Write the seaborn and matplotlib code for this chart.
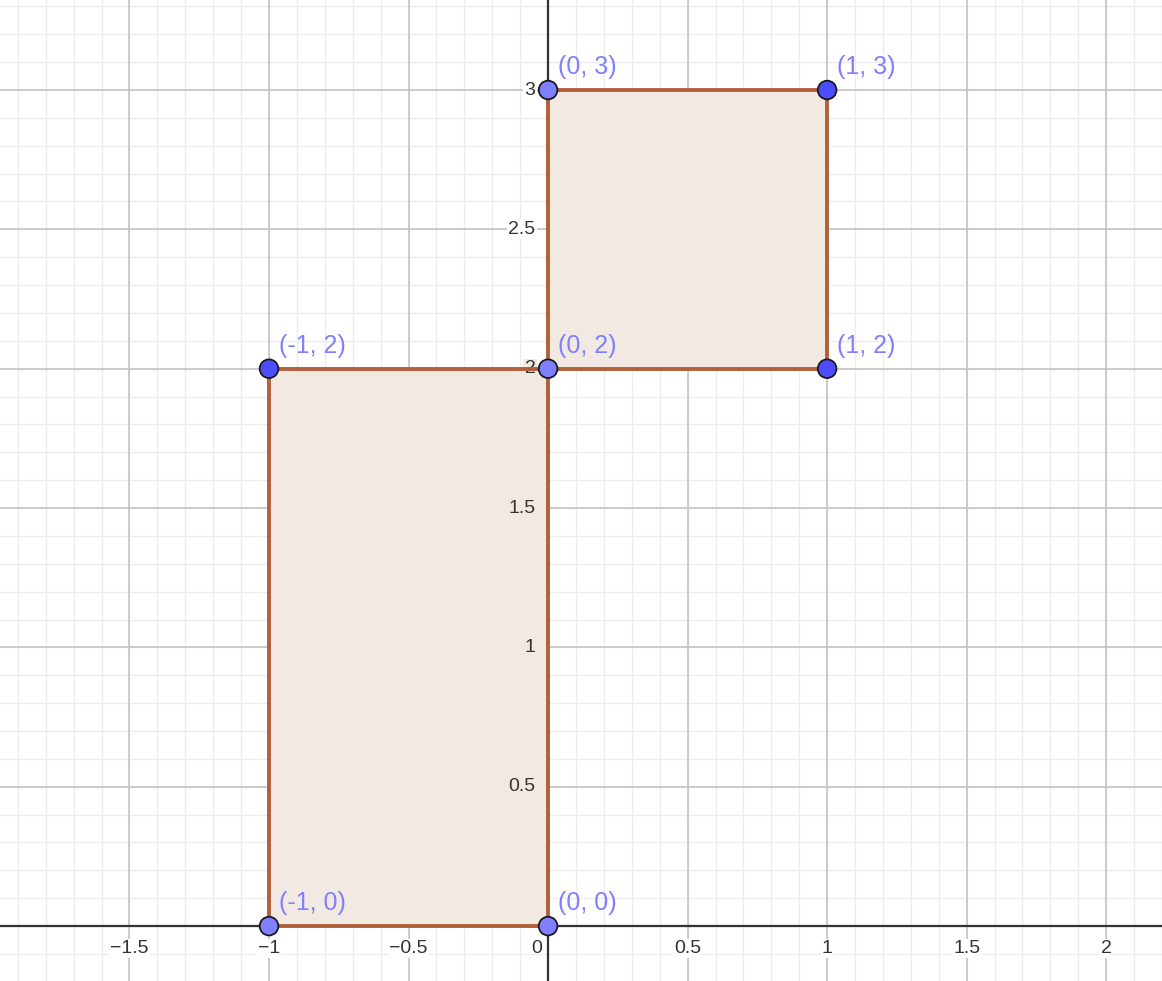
import numpy as np
import matplotlib
matplotlib.use("Agg")
from matplotlib import pyplot as plt
import seaborn as sns

# polygons (rectangles)
rect_lower_x = [-1, 0, 0, -1]
rect_lower_y = [0, 0, 2, 2]
rect_upper_x = [0, 1, 1, 0]
rect_upper_y = [2, 2, 3, 3]

# points: free points darker blue, dependent points lighter
pt_x = [0, 1, -1, 0, 1, -1, 0]
pt_y = [3, 3, 2, 2, 2, 0, 0]
pt_kind = ["dep", "free", "free", "dep", "free", "dep", "dep"]
pt_labels = ["(0, 3)", "(1, 3)", "(-1, 2)", "(0, 2)", "(1, 2)", "(-1, 0)", "(0, 0)"]

x_ticks = [-1.5, -1, -0.5, 0.5, 1, 1.5, 2]
y_ticks = [0.5, 1, 1.5, 2, 2.5, 3]

sns.set_style("white")
plt.rcParams["font.family"] = ["Liberation Sans", "DejaVu Sans"]

FILL = "#f2e9e3"

fig = plt.figure(figsize=(11.62, 9.81), dpi=100)
ax = fig.add_axes([0, 0, 1, 1])
ax.set_xlim(-1.964, 2.2)
ax.set_ylim(-0.197, 3.323)

# grid: minor every 0.1, major every 0.5
for v in np.arange(-19, 23) / 10:
    ax.axvline(v, color="#ececec", lw=1, zorder=0, snap=True)
for v in np.arange(-1, 34) / 10:
    ax.axhline(v, color="#ececec", lw=1, zorder=0, snap=True)
for v in np.arange(-3, 5) / 2:
    ax.axvline(v, color="#c4c4c4", lw=1.2, zorder=0.5, snap=True)
for v in np.arange(1, 7) / 2:
    ax.axhline(v, color="#c4c4c4", lw=1.2, zorder=0.5, snap=True)

# axes
ax.axhline(0, color="#333333", lw=1.6, zorder=1)
ax.axvline(0, color="#333333", lw=1.6, zorder=1)

for xs, ys in [(rect_lower_x, rect_lower_y), (rect_upper_x, rect_upper_y)]:
    ax.fill(xs, ys, facecolor=FILL, edgecolor="none", zorder=2)
    ax.plot(xs + xs[:1], ys + ys[:1], color="#b0603a", lw=2.8, zorder=3,
            solid_joinstyle="miter")

palette = {"free": "#4d4dff", "dep": "#7f7fff"}
sns.scatterplot(x=pt_x, y=pt_y, hue=pt_kind, palette=palette, s=180,
                edgecolor="#1a1a1a", linewidth=1.3, legend=False, zorder=5, ax=ax)

for x, y, lab in zip(pt_x, pt_y, pt_labels):
    ax.annotate(lab, (x, y), xytext=(7, 8), textcoords="offset points",
                color="#7f7fff", fontsize=18, ha="left", va="bottom", zorder=6)

# tick labels
for v in x_ticks:
    s = f"{v:g}".replace("-", "\u2212")
    ax.text(v, -0.05, s, fontsize=14, color="#333333", ha="center", va="top",
            zorder=2.5, bbox=dict(facecolor="white", edgecolor="none", pad=0.5))
ax.text(-0.02, -0.05, "0", fontsize=14, color="#333333", ha="right", va="top",
        zorder=2.5)
for v in y_ticks:
    bg = FILL if v <= 2 else "white"
    ax.text(-0.045, v, f"{v:g}", fontsize=14, color="#333333", ha="right",
            va="center", zorder=2.5,
            bbox=dict(facecolor=bg, edgecolor="none", pad=1))

ax.set_xticks([])
ax.set_yticks([])
for sp in ax.spines.values():
    sp.set_visible(False)

plt.savefig("out.png", dpi=100)
